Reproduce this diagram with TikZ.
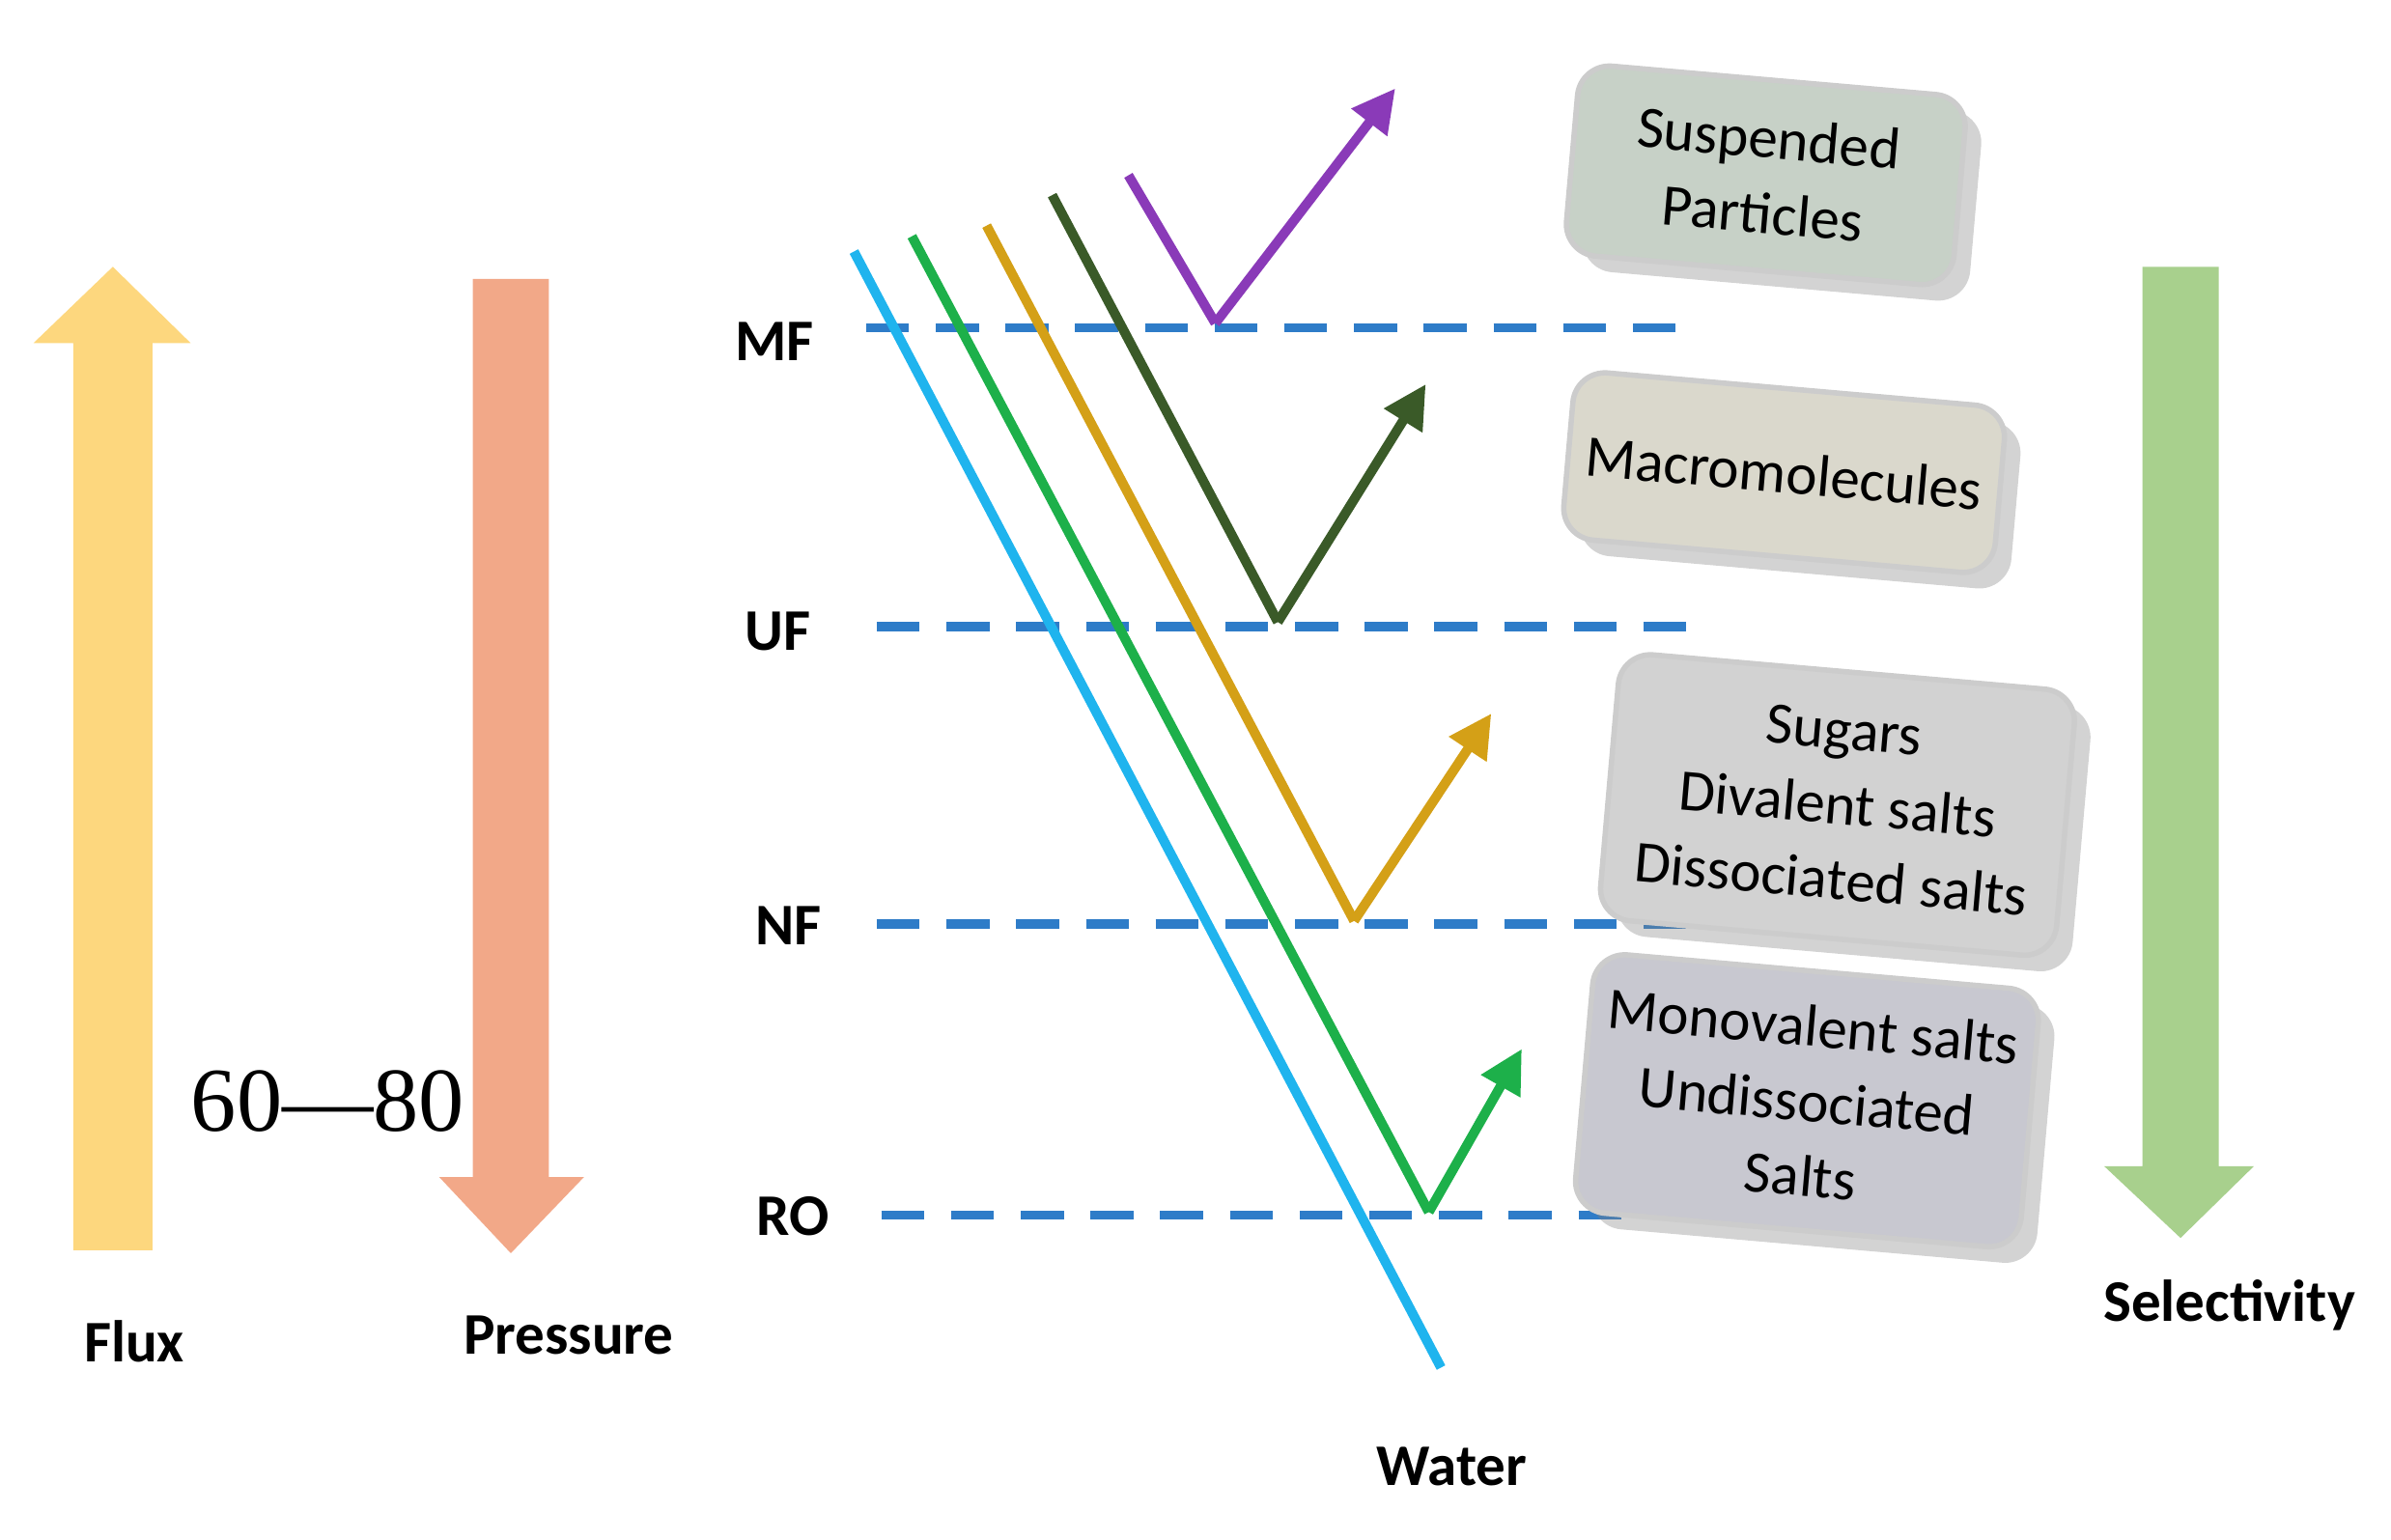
\documentclass[tikz,border=0pt]{standalone}
\usepackage{fontspec}
\setmainfont{Carlito}
\newfontfamily\seriffont{Liberation Serif}
\usetikzlibrary{arrows.meta,shadows}
\definecolor{dashcol}{HTML}{2E7CC8}
\definecolor{cblue}{HTML}{1FB4EE}
\definecolor{cgreen}{HTML}{1DB04A}
\definecolor{corange}{HTML}{D4A017}
\definecolor{cdark}{HTML}{3A5A28}
\definecolor{cpurple}{HTML}{8A3AB8}
\definecolor{cflux}{HTML}{FDD77E}
\definecolor{cpres}{HTML}{F2A888}
\definecolor{csel}{HTML}{A8D08D}
\tikzset{
 lvl/.style={draw=dashcol, line width=1.7pt, dash pattern=on 8pt off 5pt},
 lbl/.style={font=\bfseries\fontsize{11}{13}\selectfont},
 path/.style={line width=1.8pt},
 ray/.style={line width=1.8pt,-{Triangle[length=8pt,width=8pt]}},
 box/.style={draw=white!80!black, line width=1pt, rounded corners=6pt, align=center, rotate=-5,
   font=\fontsize{11}{14}\selectfont, drop shadow={shadow xshift=3pt,shadow yshift=-3pt,opacity=0.35}},
 bigfill/.style={draw=none}
}
\begin{document}
\begin{tikzpicture}[x=0.01cm,y=-0.01cm]
\useasboundingbox (0,0) rectangle (1568,1010);
% big arrows
\fill[cflux] (48,820) -- (48,225) -- (22,225) -- (74,175) -- (125,225) -- (100,225) -- (100,820) -- cycle;
\fill[cpres] (310,183) -- (310,772) -- (288,772) -- (335,822) -- (383,772) -- (360,772) -- (360,183) -- cycle;
\fill[csel] (1405,175) -- (1405,765) -- (1380,765) -- (1430,812) -- (1478,765) -- (1455,765) -- (1455,175) -- cycle;
\node[lbl] (tflux) at (88,880) {Flux};
\node[lbl] (tpres) at (373,876) {Pressure};
\node[lbl] (tsel) at (1462,856) {Selectivity};
\node[font=\seriffont\fontsize{17}{19}\selectfont] (t6080) at (215,722) {60—80};
% levels
\coordinate (mf1) at (568,215); \coordinate (mf2) at (1115,215);
\coordinate (uf1) at (575,411); \coordinate (uf2) at (1120,411);
\coordinate (nf1) at (575,606); \coordinate (nf2) at (1115,606);
\coordinate (ro1) at (578,797); \coordinate (ro2) at (1125,797);
\draw[lvl] (mf1) -- (mf2); \draw[lvl] (uf1) -- (uf2);
\draw[lvl] (nf1) -- (nf2); \draw[lvl] (ro1) -- (ro2);
\node[lbl] (tmf) at (508,224) {MF};
\node[lbl] (tuf) at (510,414) {UF};
\node[lbl] (tnf) at (517,607) {NF};
\node[lbl] (tro) at (520,798) {RO};
% paths
\coordinate (b1) at (560,165); \coordinate (b2) at (945,897);
\draw[path, cblue] (b1) -- (b2);
\node[lbl] (twater) at (952,962) {Water};
\coordinate (g1) at (598,155); \coordinate (g2) at (937,795); \coordinate (g3) at (998,688);
\draw[path, cgreen] (g1) -- (g2); \draw[ray, cgreen] (g2) -- (g3);
\coordinate (o1) at (647,148); \coordinate (o2) at (888,604); \coordinate (o3) at (978,468);
\draw[path, corange] (o1) -- (o2); \draw[ray, corange] (o2) -- (o3);
\coordinate (d1) at (690,128); \coordinate (d2) at (838,408); \coordinate (d3) at (935,252);
\draw[path, cdark] (d1) -- (d2); \draw[ray, cdark] (d2) -- (d3);
\coordinate (p1) at (740,115); \coordinate (p2) at (797,212); \coordinate (p3) at (915,58);
\draw[path, cpurple] (p1) -- (p2); \draw[ray, cpurple] (p2) -- (p3);
% boxes
\node[box, fill=green!10!gray!40!white, minimum width=2.55cm, minimum height=1.25cm] (bsp) at (1158,115) {Suspended\\Particles};
\node[box, fill=yellow!15!gray!40!white, minimum width=2.75cm, minimum height=1.1cm] (bmac) at (1170,310) {Macromolecules};
\node[box, fill=gray!35!white, minimum width=3.0cm, minimum height=1.75cm] (bsug) at (1205,528) {Sugars\\Divalent salts\\Dissociated salts};
\node[box, fill=blue!8!gray!40!white, minimum width=2.7cm, minimum height=1.7cm] (bmono) at (1185,722) {Monovalent salts\\Undissociated\\Salts};
\end{tikzpicture}
\end{document}
